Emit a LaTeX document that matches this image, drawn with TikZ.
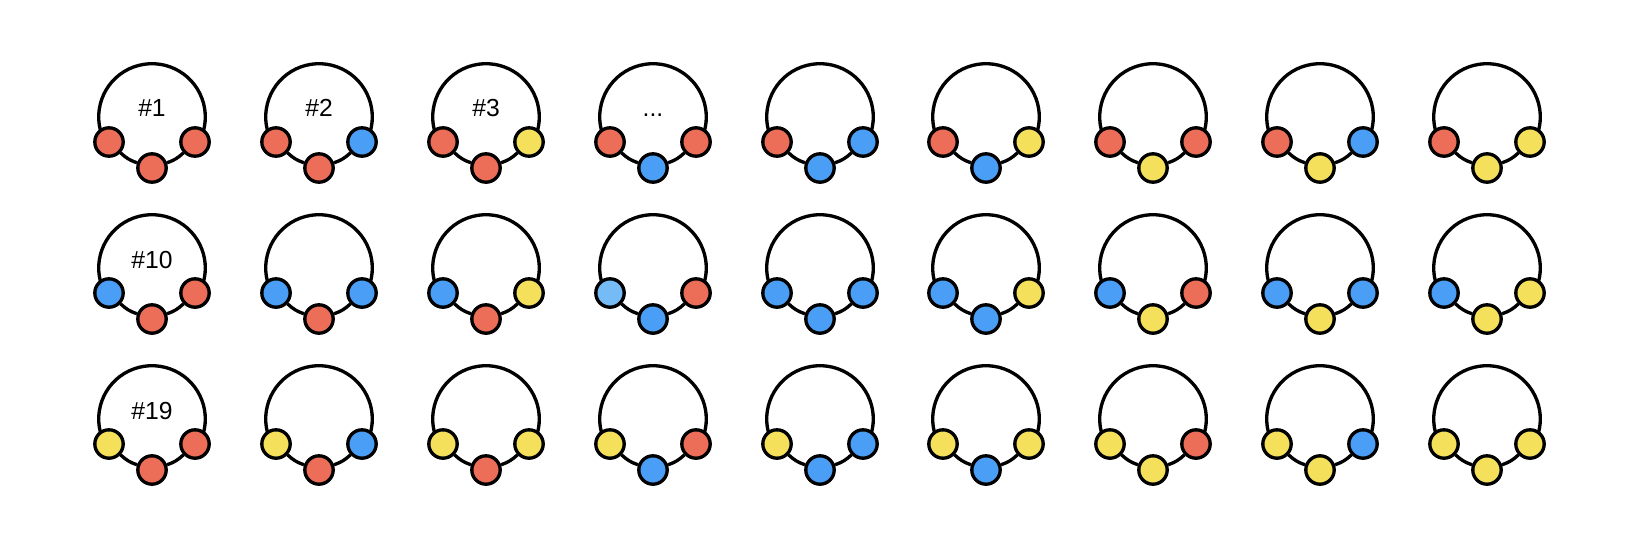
\documentclass[tikz,border=0pt]{standalone}
\usepackage{fontspec}
\setmainfont{Liberation Sans}

\definecolor{beadred}{HTML}{EC6E58}
\definecolor{beadblue}{HTML}{4A9EF5}
\definecolor{beadsky}{HTML}{75BCF7}
\definecolor{beadyellow}{HTML}{F5E05C}

\tikzset{every picture/.style={line width=2.5pt}}
\tikzset{ringline/.style={draw=black, line width=2.5pt},
  bead/.style={circle, draw=black, line width=2.5pt, inner sep=0pt, minimum size=21.3pt},
  ringlabel/.style={anchor=base, inner sep=0.75pt, font=\fontsize{18.5}{22}\selectfont}}

% one ring: #1 name, #2 #3 centre, #4 #5 #6 left/bottom/right bead, #7 label
\newcommand{\ring}[7]{%
  \draw [ringline] (#2,#3) ++(160:53.3) arc [start angle=160, end angle=380, radius=53.3];
  \node [bead, fill=#4] (l#1) at ({#2-43},{#3+25}) {};
  \node [bead, fill=#5] (b#1) at (#2,{#3+51}) {};
  \node [bead, fill=#6] (r#1) at ({#2+43},{#3+25}) {};
  \draw [ringline] (l#1) to [bend left=12] (b#1);
  \draw [ringline] (b#1) to [bend left=12] (r#1);
  \node [ringlabel] (t#1) at (#2,#3) {#7};
}

\begin{document}
\begin{tikzpicture}[x=0.75pt,y=0.75pt,yscale=-1,xscale=1]
\path [use as bounding box] (0,0) rectangle (1646,560); %set diagram size 1646 x 560

%Row 1
\ring{1}{152}{117}{beadred}{beadred}{beadred}{\#1}
\ring{2}{319}{117}{beadred}{beadred}{beadblue}{\#2}
\ring{3}{486}{117}{beadred}{beadred}{beadyellow}{\#3}
\ring{4}{653}{117}{beadred}{beadblue}{beadred}{...}
\ring{5}{820}{117}{beadred}{beadblue}{beadblue}{}
\ring{6}{986}{117}{beadred}{beadblue}{beadyellow}{}
\ring{7}{1153}{117}{beadred}{beadyellow}{beadred}{}
\ring{8}{1320}{117}{beadred}{beadyellow}{beadblue}{}
\ring{9}{1487}{117}{beadred}{beadyellow}{beadyellow}{}
%Row 2
\ring{10}{152}{268}{beadblue}{beadred}{beadred}{\#10}
\ring{11}{319}{268}{beadblue}{beadred}{beadblue}{}
\ring{12}{486}{268}{beadblue}{beadred}{beadyellow}{}
\ring{13}{653}{268}{beadsky}{beadblue}{beadred}{}
\ring{14}{820}{268}{beadblue}{beadblue}{beadblue}{}
\ring{15}{986}{268}{beadblue}{beadblue}{beadyellow}{}
\ring{16}{1153}{268}{beadblue}{beadyellow}{beadred}{}
\ring{17}{1320}{268}{beadblue}{beadyellow}{beadblue}{}
\ring{18}{1487}{268}{beadblue}{beadyellow}{beadyellow}{}
%Row 3
\ring{19}{152}{419}{beadyellow}{beadred}{beadred}{\#19}
\ring{20}{319}{419}{beadyellow}{beadred}{beadblue}{}
\ring{21}{486}{419}{beadyellow}{beadred}{beadyellow}{}
\ring{22}{653}{419}{beadyellow}{beadblue}{beadred}{}
\ring{23}{820}{419}{beadyellow}{beadblue}{beadblue}{}
\ring{24}{986}{419}{beadyellow}{beadblue}{beadyellow}{}
\ring{25}{1153}{419}{beadyellow}{beadyellow}{beadred}{}
\ring{26}{1320}{419}{beadyellow}{beadyellow}{beadblue}{}
\ring{27}{1487}{419}{beadyellow}{beadyellow}{beadyellow}{}

\end{tikzpicture}
\end{document}
